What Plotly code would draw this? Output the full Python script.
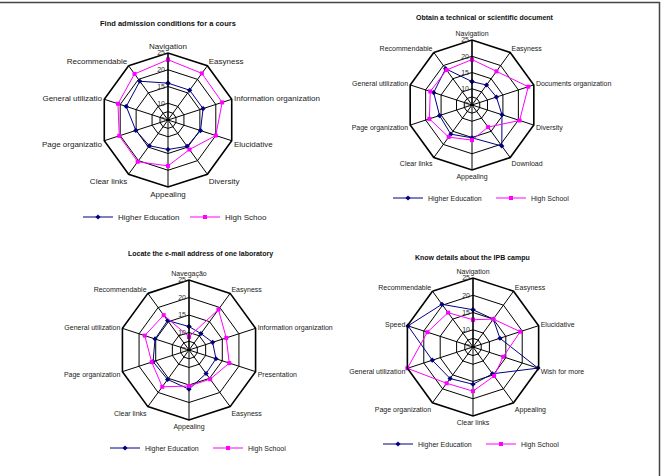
import plotly.graph_objects as go

# -------------------------------------------------------
# Data
# -------------------------------------------------------
TITLE_1 = "Find admission conditions for a cours"
CATS_1 = ["Navigation", "Easyness", "Information organization", "Elucidative",
          "Diversity", "Appealing", "Clear links", "Page organizatio",
          "General utilizatio", "Recommendable"]
HE_1 = [16, 16, 16, 15.2, 14.7, 13.8, 14.5, 15.1, 18.1, 19.3]
HS_1 = [23, 22.2, 22, 20, 15.9, 18.7, 20.4, 20.3, 20.7, 22]

TITLE_2 = "Obtain a technical or scientific document"
CATS_2 = ["Navigation", "Easyness", "Documents organization", "Diversity",
          "Download", "Appealing", "Clear links", "Page organization",
          "General utilization", "Recommendable"]
HE_2 = [12.2, 12.6, 12.9, 14.7, 20.6, 15.1, 16.1, 15.5, 17.4, 18.8]
HS_2 = [19, 17.8, 23.2, 20.4, 13.4, 15.8, 17.2, 18.8, 18.5, 18.3]

TITLE_3 = "Locate the e-mail address of one laboratory"
# second "Easyness" carries a trailing space so the category stays distinct
CATS_3 = ["Navegação", "Easyness", "Information organization", "Presentation",
          "Easyness ", "Appealing", "Clear links", "Page organization",
          "General utilization", "Recommendable"]
HE_3 = [11.7, 10.8, 12.1, 13.1, 13.3, 16.2, 15.4, 15.8, 15.2, 15.4]
HS_3 = [8.8, 19.3, 16.2, 17.1, 15.3, 15.3, 18, 16.2, 18.3, 17.3]

TITLE_4 = "Know details about the IPB campu"
CATS_4 = ["Navigation", "Easyness", "Elucidative", "Wish for more",
          "Appealing", "Clear links", "Page organization",
          "General utilization", "Speed", "Recommendable"]
HE_4 = [15.8, 15, 13.2, 24.8, 14.6, 15.8, 16.3, 17.4, 24.8, 20.3]
HS_4 = [12.9, 15, 19.4, 14.2, 15.4, 17.8, 18, 25, 18.9, 17.3]

SERIES_NAMES = ["Higher Education", "High School"]
SERIES_NAMES_1 = ["Higher Education", "High Schoo"]

R_TICKS = [5, 7.5, 10, 15, 20, 25]
R_TICKTEXT = ["5", "", "10", "15", "20", "25"]

# -------------------------------------------------------
# Style
# -------------------------------------------------------
W, H = 661, 476
NAVY = "#000080"
MAGENTA = "#FF00FF"
FONT = "Liberation Sans, Arial, sans-serif"

# (center x px, center y px, radius px, title y px, legend y px, label size)
PANELS = [
    (168, 120, 67, 23, 217, 8),
    (472, 105, 65, 18, 198, 7),
    (189, 350, 70, 254, 448, 7),
    (473, 347, 69, 258, 444, 7),
]
TITLE_X = [168, 485, 200, 472]
LEGEND_X = [185, 491, 208, 481]
LEGEND_ENTRY = [62, 58, 58, 58]

charts = [
    (TITLE_1, CATS_1, HE_1, HS_1, SERIES_NAMES_1),
    (TITLE_2, CATS_2, HE_2, HS_2, SERIES_NAMES),
    (TITLE_3, CATS_3, HE_3, HS_3, SERIES_NAMES),
    (TITLE_4, CATS_4, HE_4, HS_4, SERIES_NAMES),
]


def px_x(v):
    return v / W


def px_y(v):
    return 1 - v / H


fig = go.Figure()
layout = {}
annotations = []

for i, (title, cats, he, hs, names) in enumerate(charts):
    cx, cy, r, ty, ly, fs = PANELS[i]
    pname = "polar" if i == 0 else f"polar{i + 1}"
    lname = "legend" if i == 0 else f"legend{i + 1}"

    for vals, name, color, sym in [(he, names[0], NAVY, "diamond"),
                                   (hs, names[1], MAGENTA, "square")]:
        fig.add_trace(go.Scatterpolar(
            r=vals + vals[:1],
            theta=cats + cats[:1],
            mode="lines+markers",
            name=name,
            line=dict(color=color, width=1),
            marker=dict(color=color, size=4, symbol=sym),
            subplot=pname,
            legend=lname,
            cliponaxis=False,
        ))

    layout[pname] = dict(
        domain=dict(x=[px_x(cx - r), px_x(cx + r)], y=[px_y(cy + r), px_y(cy - r)]),
        bgcolor="white",
        gridshape="linear",
        radialaxis=dict(
            range=[5, 25], tickvals=R_TICKS, ticktext=R_TICKTEXT,
            angle=90, side="counterclockwise", tickangle=90,
            showline=True, linecolor="black", linewidth=1.2,
            gridcolor="black", gridwidth=1.3, ticks="",
            tickfont=dict(size=7, color="#333333", family=FONT),
        ),
        angularaxis=dict(
            direction="clockwise", rotation=90,
            showline=True, linecolor="black", linewidth=1.6,
            gridcolor="black", gridwidth=1.3, ticks="",
            tickfont=dict(size=fs, color="#222222", family=FONT),
        ),
    )
    layout[lname] = dict(
        orientation="h", x=px_x(LEGEND_X[i]), y=px_y(ly),
        xanchor="center", yanchor="middle",
        font=dict(size=fs, color="#222222", family=FONT),
        bgcolor="rgba(0,0,0,0)", itemwidth=30, tracegroupgap=0,
        entrywidth=LEGEND_ENTRY[i], entrywidthmode="pixels",
    )
    annotations.append(dict(
        text=f"<b>{title}</b>", x=px_x(TITLE_X[i]), y=px_y(ty),
        xref="paper", yref="paper", showarrow=False,
        xanchor="center", yanchor="middle",
        font=dict(size=7 if i else 7.5, color="#111111", family=FONT),
    ))

fig.update_layout(
    width=W, height=H,
    margin=dict(l=0, r=0, t=0, b=0),
    paper_bgcolor="white",
    annotations=annotations,
    shapes=[dict(type="rect", xref="paper", yref="paper",
                 x0=-0.01, x1=px_x(659.5), y0=-0.01, y1=px_y(2.5),
                 line=dict(color="#444444", width=1.5))],
    **layout,
)

fig.write_html("out.html", config={"displayModeBar": False},
               post_script="document.body.style.margin='0';")
